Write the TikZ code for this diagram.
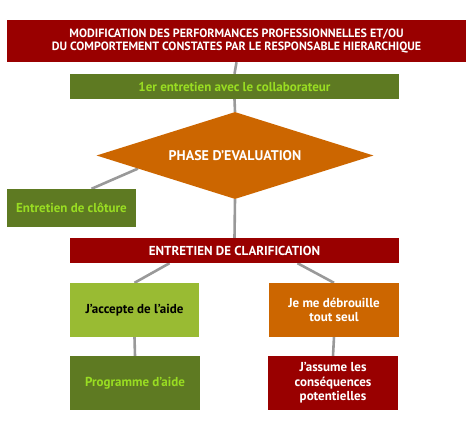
\documentclass[tikz,border=0pt]{standalone}
\usepackage{fontspec}
\setmainfont{PT Sans}
\usetikzlibrary{shapes.geometric,calc,backgrounds}
\definecolor{darkred}{HTML}{990000}
\definecolor{olive}{HTML}{5E7A22}
\definecolor{lightgreen}{HTML}{99BB33}
\definecolor{textgreen}{HTML}{99DD22}
\definecolor{rust}{HTML}{CC6600}
\definecolor{link}{HTML}{999999}

\begin{document}
\begin{tikzpicture}[
    x=1pt, y=-1pt,
    box/.style={rectangle, inner sep=2pt, align=center, font=\bfseries\fontsize{13}{14.5}\selectfont},
    link/.style={draw=link, line width=2.6pt}
]
    \useasboundingbox (0,0) rectangle (474,436);

    % --- top of the chart ---
    \node[box, fill=darkred, text=white, minimum width=459pt, minimum height=42pt,
        font=\bfseries\fontsize{12}{13.5}\selectfont] (modif) at (236.5,41)
        {MODIFICATION DES PERFORMANCES PROFESSIONNELLES ET/OU\\DU COMPORTEMENT CONSTATES PAR LE RESPONSABLE HIERARCHIQUE};
    \node[box, fill=olive, text=textgreen, minimum width=329pt, minimum height=25pt] (entr1) at (234.5,86.5)
        {1er entretien avec le collaborateur};
    \node[diamond, aspect=3.2, fill=rust, text=white, inner sep=0pt, minimum width=277pt, minimum height=87pt,
        font=\bfseries\fontsize{14}{15}\selectfont] (evalu) at (235,155.5) {PHASE D'EVALUATION};
    \node[box, fill=olive, text=textgreen, minimum width=129pt, minimum height=38pt] (cloture) at (71.5,208)
        {Entretien de cl\^oture};
    \node[box, fill=darkred, text=white, minimum width=329pt, minimum height=25pt] (clarif) at (234.5,250.5)
        {ENTRETIEN DE CLARIFICATION};

    % --- the two answers ---
    \node[box, fill=lightgreen, text=black, minimum width=129pt, minimum height=54pt] (accepte) at (134.5,310)
        {J'accepte de l'aide};
    \node[box, fill=rust, text=white, minimum width=130pt, minimum height=54pt] (debrouille) at (334,310)
        {Je me d\'ebrouille\\tout seul};
    \node[box, fill=olive, text=textgreen, minimum width=130pt, minimum height=54pt] (programme) at (135,383)
        {Programme d'aide};
    \node[box, fill=darkred, text=white, minimum width=130pt, minimum height=54pt] (assume) at (333,383)
        {J'assume les\\cons\'equences\\potentielles};

    % --- links, behind the boxes ---
    \begin{scope}[on background layer]
    \draw[link] (modif.south) -- (entr1.north);
    \draw[link] (entr1.south) -- (evalu.north);
    \draw[link] ([xshift=20pt]cloture.north) -- ($(evalu.west)!0.3!(evalu.south)$);
    \draw[link] (evalu.south) -- (clarif.north);
    \draw[link] ([xshift=-65pt]clarif.south) -- (accepte.north);
    \draw[link] ([xshift=63pt]clarif.south) -- (debrouille.north);
    \draw[link] (accepte.south) -- (programme.north);
    \draw[link] (debrouille.south) -- (assume.north);
    \end{scope}
\end{tikzpicture}
\end{document}
